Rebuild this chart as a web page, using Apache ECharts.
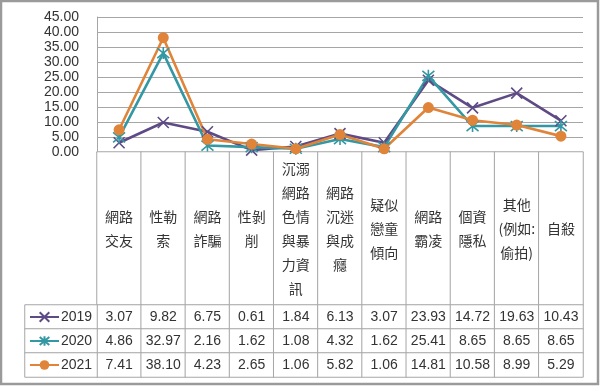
<!DOCTYPE html>
<html><head><meta charset="utf-8">
<script src="https://cdn.jsdelivr.net/npm/echarts@6/dist/echarts.min.js"></script>
<style>html,body{margin:0;padding:0;background:#fff}#c{width:600px;height:386px}</style>
</head><body><div id="c"></div>
<script>
const categories = ['網路\n交友', '性勒\n索', '網路\n詐騙', '性剝\n削', '沉溺\n網路\n色情\n與暴\n力資\n訊', '網路\n沉迷\n與成\n癮', '疑似\n戀童\n傾向', '網路\n霸凌', '個資\n隱私', '其他\n(例如:\n偷拍)', '自殺'];
const years = ['2019', '2020', '2021'];
const v2019 = [3.07, 9.82, 6.75, 0.61, 1.84, 6.13, 3.07, 23.93, 14.72, 19.63, 10.43];
const v2020 = [4.86, 32.97, 2.16, 1.62, 1.08, 4.32, 1.62, 25.41, 8.65, 8.65, 8.65];
const v2021 = [7.41, 38.10, 4.23, 2.65, 1.06, 5.82, 1.06, 14.81, 10.58, 8.99, 5.29];
const yTicks = {min: 0, max: 45, interval: 5};

const allVals = [v2019, v2020, v2021];
const colors = ['#5e4b86', '#3398a3', '#e0843a'];
const lineC = '#a6a6a6';
const txt = '#333';
const numFont = 'Liberation Sans';
const cjkFont = 'Noto Sans CJK TC';
const xPath = 'path://M0,0L10,10M10,0L0,10';
const starPath = 'path://M0,1L10,11M10,1L0,11M5,0L5,12';
const symbols = [xPath, starPath, 'circle'];
const symSizes = [11, 12, 11];

const chart = echarts.init(document.getElementById('c'), null, {renderer: 'canvas'});

const labelCells = categories.map((c, i) => [i, 0, 0]);
const tableCells = [];
allVals.forEach((arr, r) => arr.forEach((v, i) => tableCells.push([i, r, v])));
const legendCells = years.map((y, r) => [0, r, 0]);

const lineSeries = years.map((y, k) => ({
  name: y, type: 'line', xAxisIndex: 0, yAxisIndex: 0,
  data: allVals[k],
  symbol: symbols[k], symbolSize: symSizes[k],
  lineStyle: {color: colors[k], width: 2.6},
  itemStyle: {color: colors[k], borderColor: colors[k], borderWidth: k === 2 ? 0 : 1.6},
  emphasis: {disabled: true},
  animation: false
}));

const option = {
  animation: false,
  grid: [
    {left: 97, right: 17, top: 17, height: 135},
    {left: 97, right: 17, top: 152, height: 153},
    {left: 97, right: 17, top: 305, height: 72},
    {left: 25, width: 72, top: 305, height: 72}
  ],
  xAxis: [
    {gridIndex: 0, type: 'category', data: categories, boundaryGap: true,
     axisLine: {show: true, lineStyle: {color: lineC}}, axisTick: {show: false}, axisLabel: {show: false}},
    {gridIndex: 1, type: 'category', data: categories, show: false},
    {gridIndex: 2, type: 'category', data: categories, show: false},
    {gridIndex: 3, type: 'category', data: ['legend'], show: false}
  ],
  yAxis: [
    {gridIndex: 0, type: 'value', min: yTicks.min, max: yTicks.max, interval: yTicks.interval,
     axisLine: {show: true, lineStyle: {color: lineC}}, axisTick: {show: false},
     splitLine: {lineStyle: {color: lineC, width: 1}},
     axisLabel: {formatter: v => v.toFixed(2), fontSize: 14, color: txt, fontFamily: numFont, margin: 18}},
    {gridIndex: 1, type: 'category', data: ['label'], show: false},
    {gridIndex: 2, type: 'category', data: years, inverse: true, show: false},
    {gridIndex: 3, type: 'category', data: years, inverse: true, show: false}
  ],
  visualMap: {show: false, type: 'continuous', seriesIndex: [3, 4, 5], min: 0, max: 100,
    inRange: {color: ['#ffffff', '#ffffff']}},
  legend: years.map((y, k) => ({
    data: [y], left: 29, top: 310 + k * 24, padding: 0, selectedMode: false,
    itemWidth: 29, itemHeight: 12, itemGap: 0,
    textStyle: {fontSize: 14, color: txt, fontFamily: numFont, lineHeight: 14, padding: [0, 0, 0, -3]}
  })),
  series: lineSeries.concat([
    {type: 'heatmap', xAxisIndex: 1, yAxisIndex: 1, data: labelCells,
     itemStyle: {color: '#fff', borderColor: lineC, borderWidth: 1},
     label: {show: true, formatter: p => categories[p.data[0]], fontSize: 14, lineHeight: 24,
             color: txt, fontFamily: cjkFont, align: 'center'},
     emphasis: {disabled: true}, z: 1},
    {type: 'heatmap', xAxisIndex: 2, yAxisIndex: 2, data: tableCells,
     itemStyle: {color: '#fff', borderColor: lineC, borderWidth: 1},
     label: {show: true, formatter: p => p.data[2].toFixed(2), fontSize: 14,
             color: txt, fontFamily: numFont},
     emphasis: {disabled: true}, z: 1},
    {type: 'heatmap', xAxisIndex: 3, yAxisIndex: 3, data: legendCells,
     itemStyle: {color: '#fff', borderColor: lineC, borderWidth: 1},
     label: {show: false}, emphasis: {disabled: true}, z: 1}
  ]),
  graphic: [{type: 'rect', shape: {x: 1, y: 1, width: 597, height: 383},
    style: {fill: 'none', stroke: '#9a9a9a', lineWidth: 2.5}, silent: true, z: 100}]
};
chart.setOption(option);
</script></body></html>
